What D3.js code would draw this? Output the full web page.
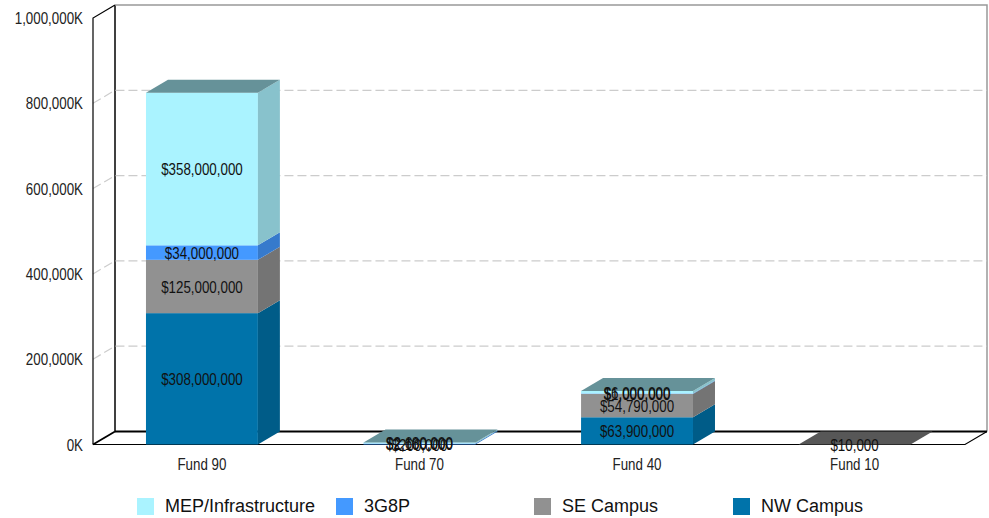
<!DOCTYPE html>
<html><head><meta charset="utf-8">
<script src="https://cdn.jsdelivr.net/npm/d3@7"></script>
<style>html,body{margin:0;padding:0;background:#fff}svg{display:block}</style>
</head><body><svg id="c" width="989" height="518"></svg>
<script>
const categories = ["Fund 90", "Fund 70", "Fund 40", "Fund 10"];
const seriesNames = ["NW Campus", "SE Campus", "3G8P", "MEP/Infrastructure"];
const nwCampus = [308000000, 200000, 63900000, 0];
const seCampus = [125000000, 0, 54790000, 10000];
const g3g8p = [34000000, 2100000, 1000000, 0];
const mepInfra = [358000000, 2680000, 6000000, 0];
const seriesValues = [nwCampus, seCampus, g3g8p, mepInfra];
const seriesColors = ["#0073AA", "#919191", "#4499FF", "#AAF3FF"];
const yTicks = [0, 200000000, 400000000, 600000000, 800000000, 1000000000];
const legendOrder = ["MEP/Infrastructure", "3G8P", "SE Campus", "NW Campus"];

const sans = "'Liberation Sans',Arial,sans-serif";
const svg = d3.select("#c");
const dx = 22, dy = 13;
const y = d3.scaleLinear().domain([0, 1000000000]).range([444.5, 18]);
const x = d3.scaleBand().domain(categories).range([93, 963.5]).paddingInner(0.4855).paddingOuter(0.2435);
const fmtK = d => d3.format(",")(d / 1000) + "K";
const fmtD = d => "$" + d3.format(",")(d);
// The reference uses a condensed face: draw the sans horizontally squeezed.
const narrowText = (sel, tx, ty, anchor, str, fill) => sel.append("text")
  .attr("transform", `translate(${tx},${ty}) scale(0.835,1)`)
  .attr("text-anchor", anchor).attr("font-family", sans).attr("font-size", 16)
  .attr("fill", fill).text(str);

const frame = svg.append("g").attr("fill", "none");
frame.append("path").attr("d", `M${93 + dx} ${y(0) - dy}V${y(1e9) - dy}`).attr("stroke", "#000").attr("stroke-width", 1.5);
frame.append("path").attr("d", `M${93 + dx} ${y(1e9) - dy}H${965 + dx}V${y(0) - dy}`).attr("stroke", "#999").attr("stroke-width", 1.5);
frame.append("path").attr("d", `M${93 + dx} ${y(0) - dy}H${965 + dx}`).attr("stroke", "#000").attr("stroke-width", 2);
yTicks.slice(1, -1).forEach(t => {
  frame.append("path").attr("d", `M93 ${y(t)}L${93 + dx} ${y(t) - dy}H${965 + dx}`)
    .attr("stroke", "#ccc").attr("stroke-width", 1.2).attr("stroke-dasharray", "9 4");
});
frame.append("path").attr("d", `M93 ${y(0)}H${965}L${965 + dx} ${y(0) - dy}`).attr("stroke", "#000").attr("stroke-width", 1.2);
frame.append("path").attr("d", `M93 ${y(0)}L${93 + dx} ${y(0) - dy}`).attr("stroke", "#000").attr("stroke-width", 1.8);
frame.append("path").attr("d", `M93 ${y(0)}V${y(1e9)}L${93 + dx} ${y(1e9) - dy}`).attr("stroke", "#000").attr("stroke-width", 1.2);

const axisLabels = svg.append("g");
yTicks.forEach(t => narrowText(axisLabels, 83, y(t) + 6, "end", fmtK(t), "#222"));

const shade = (c, k) => { const r = d3.rgb(c); return d3.rgb(r.r * k, r.g * k, r.b * k).formatHex(); };
const bars = svg.append("g"), labels = svg.append("g");
categories.forEach((cat, i) => {
  const x0 = x(cat), x1 = x0 + x.bandwidth();
  let acc = 0, lastColor = null;
  seriesValues.forEach((vals, s) => {
    const v = vals[i];
    if (!v) return;
    const yb = y(acc), yt = y(acc + v), c = seriesColors[s];
    bars.append("rect").attr("x", x0).attr("y", yt).attr("width", x1 - x0).attr("height", yb - yt).attr("fill", c);
    bars.append("path").attr("d", `M${x1} ${yb}L${x1 + dx} ${yb - dy}V${yt - dy}L${x1} ${yt}Z`).attr("fill", shade(c, 0.8));
    acc += v; lastColor = c;
    narrowText(labels, (x0 + x1) / 2, (yb + yt) / 2 + 6.5, "middle", fmtD(v), "#111");
  });
  const yt = y(acc);
  bars.append("path").attr("d", `M${x0} ${yt}L${x0 + dx} ${yt - dy}H${x1 + dx}L${x1} ${yt}Z`).attr("fill", shade(lastColor, 0.6));
  narrowText(labels, (x0 + x1) / 2, 470, "middle", cat, "#222");
});

const legendX = [137, 336, 534, 733];
const legend = svg.append("g");
legendOrder.forEach((name, i) => {
  legend.append("rect").attr("x", legendX[i]).attr("y", 498).attr("width", 17).attr("height", 17)
    .attr("fill", seriesColors[seriesNames.indexOf(name)]);
  legend.append("text").attr("x", legendX[i] + 28).attr("y", 512)
    .attr("font-family", sans).attr("font-size", 18).attr("fill", "#111").text(name);
});
</script></body></html>
